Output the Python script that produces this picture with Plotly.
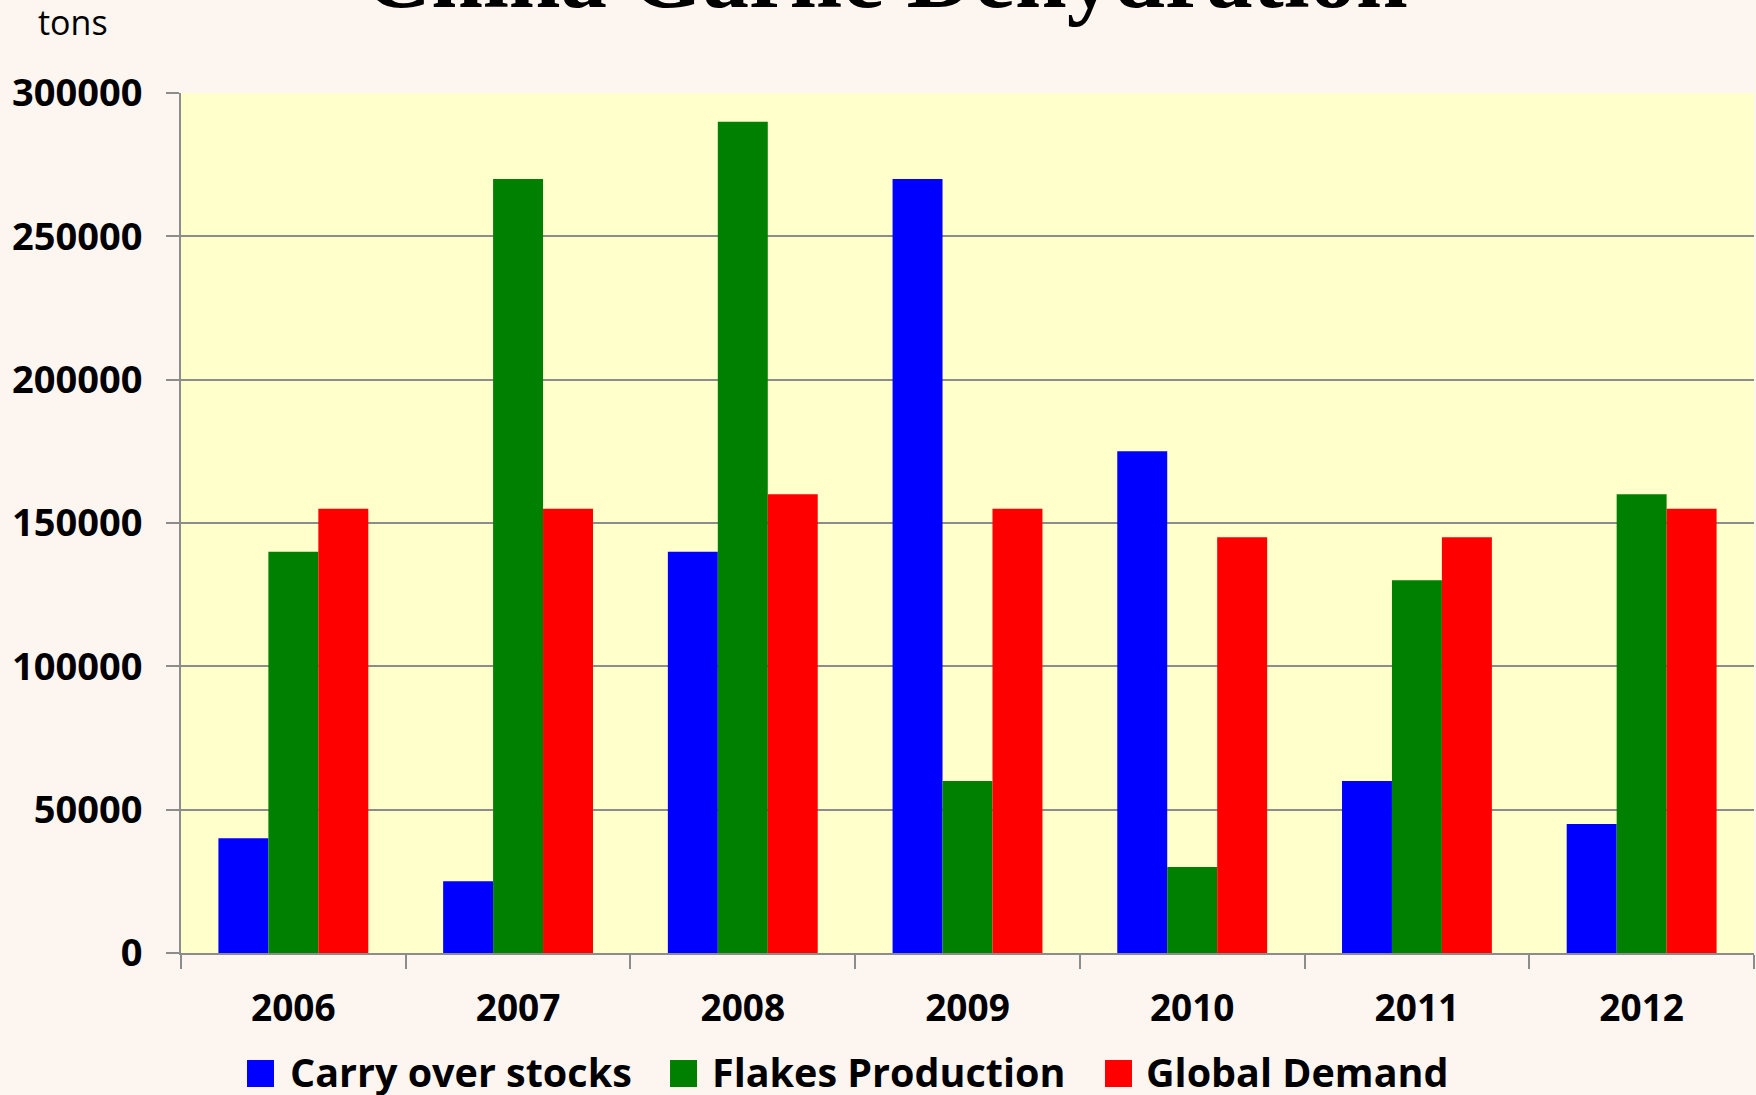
import plotly.graph_objects as go

years = ["2006", "2007", "2008", "2009", "2010", "2011", "2012"]
carry_over = [40000, 25000, 140000, 270000, 175000, 60000, 45000]
flakes = [140000, 270000, 290000, 60000, 30000, 130000, 160000]
demand = [155000, 155000, 160000, 155000, 145000, 145000, 155000]
series_names = ["Carry over stocks", "Flakes Production", "Global Demand"]
colors = ["#0000FF", "#008000", "#FF0000"]
y_ticks = [0, 50000, 100000, 150000, 200000, 250000, 300000]

W, H = 1756, 1095
L, R, T, B = 181, 1754, 93, 953
PAPER = "#FDF5F0"

def px2x(p):
    return (p - L) / (R - L)

def py2y(p):
    return (B - p) / (B - T)

fig = go.Figure()
for name, vals, col in zip(series_names, [carry_over, flakes, demand], colors):
    fig.add_trace(go.Bar(x=years, y=vals, name=name, marker=dict(color=col, line=dict(width=0)),
                         showlegend=False))

grid = "#8c8c8c"
fig.update_layout(
    width=W, height=H,
    margin=dict(l=L, r=W - R, t=T, b=H - B),
    paper_bgcolor=PAPER,
    plot_bgcolor="#FFFFCC",
    barmode="group", bargap=0.333, bargroupgap=0,
    font=dict(family="Open Sans", color="black"),
    xaxis=dict(showline=True, linecolor=grid, linewidth=2, ticks="outside", tickson="boundaries",
               ticklen=14, tickwidth=2, tickcolor=grid, showgrid=False,
               tickfont=dict(family="Open Sans", size=37, weight="bold", color="black"),
               ticklabelstandoff=22),
    yaxis=dict(range=[0, 300000], tickvals=y_ticks, ticktext=[str(v) for v in y_ticks],
               showline=True, linecolor=grid, linewidth=2, ticks="outside", ticklen=13,
               tickwidth=2, tickcolor=grid, showgrid=True, gridcolor=grid, gridwidth=2,
               zeroline=False,
               tickfont=dict(family="Open Sans", size=38, weight="bold", color="black"),
               ticklabelstandoff=16),
)

# Title (partially cut off at top, as in the reference)
fig.add_annotation(text="<b>China Garlic Dehydration</b>", xref="paper", yref="paper",
                   x=px2x(886), y=py2y(-25), xanchor="center", yanchor="middle", showarrow=False,
                   font=dict(family="Liberation Serif", size=93, color="black"))
# Unit label
fig.add_annotation(text="tons", xref="paper", yref="paper", x=px2x(36), y=py2y(22),
                   xanchor="left", yanchor="middle", showarrow=False,
                   font=dict(family="Open Sans", size=34, color="black"))

# Custom legend
legend_items = [(247, 274, 288), (670, 697, 710), (1105, 1132, 1144)]
for (x0, x1, tx), name, col in zip(legend_items, series_names, colors):
    fig.add_shape(type="rect", xref="paper", yref="paper", x0=px2x(x0), x1=px2x(x1),
                  y0=py2y(1087), y1=py2y(1060), fillcolor=col, line=dict(width=0))
    fig.add_annotation(text="<b>" + name + "</b>", xref="paper", yref="paper", x=px2x(tx),
                       y=py2y(1072), xanchor="left", yanchor="middle", showarrow=False,
                       font=dict(family="Open Sans", size=39.5, color="black"))

fig.write_html("out.html", config={"displayModeBar": False},
               post_script="document.body.style.margin='0';document.body.style.background='%s';" % PAPER)
